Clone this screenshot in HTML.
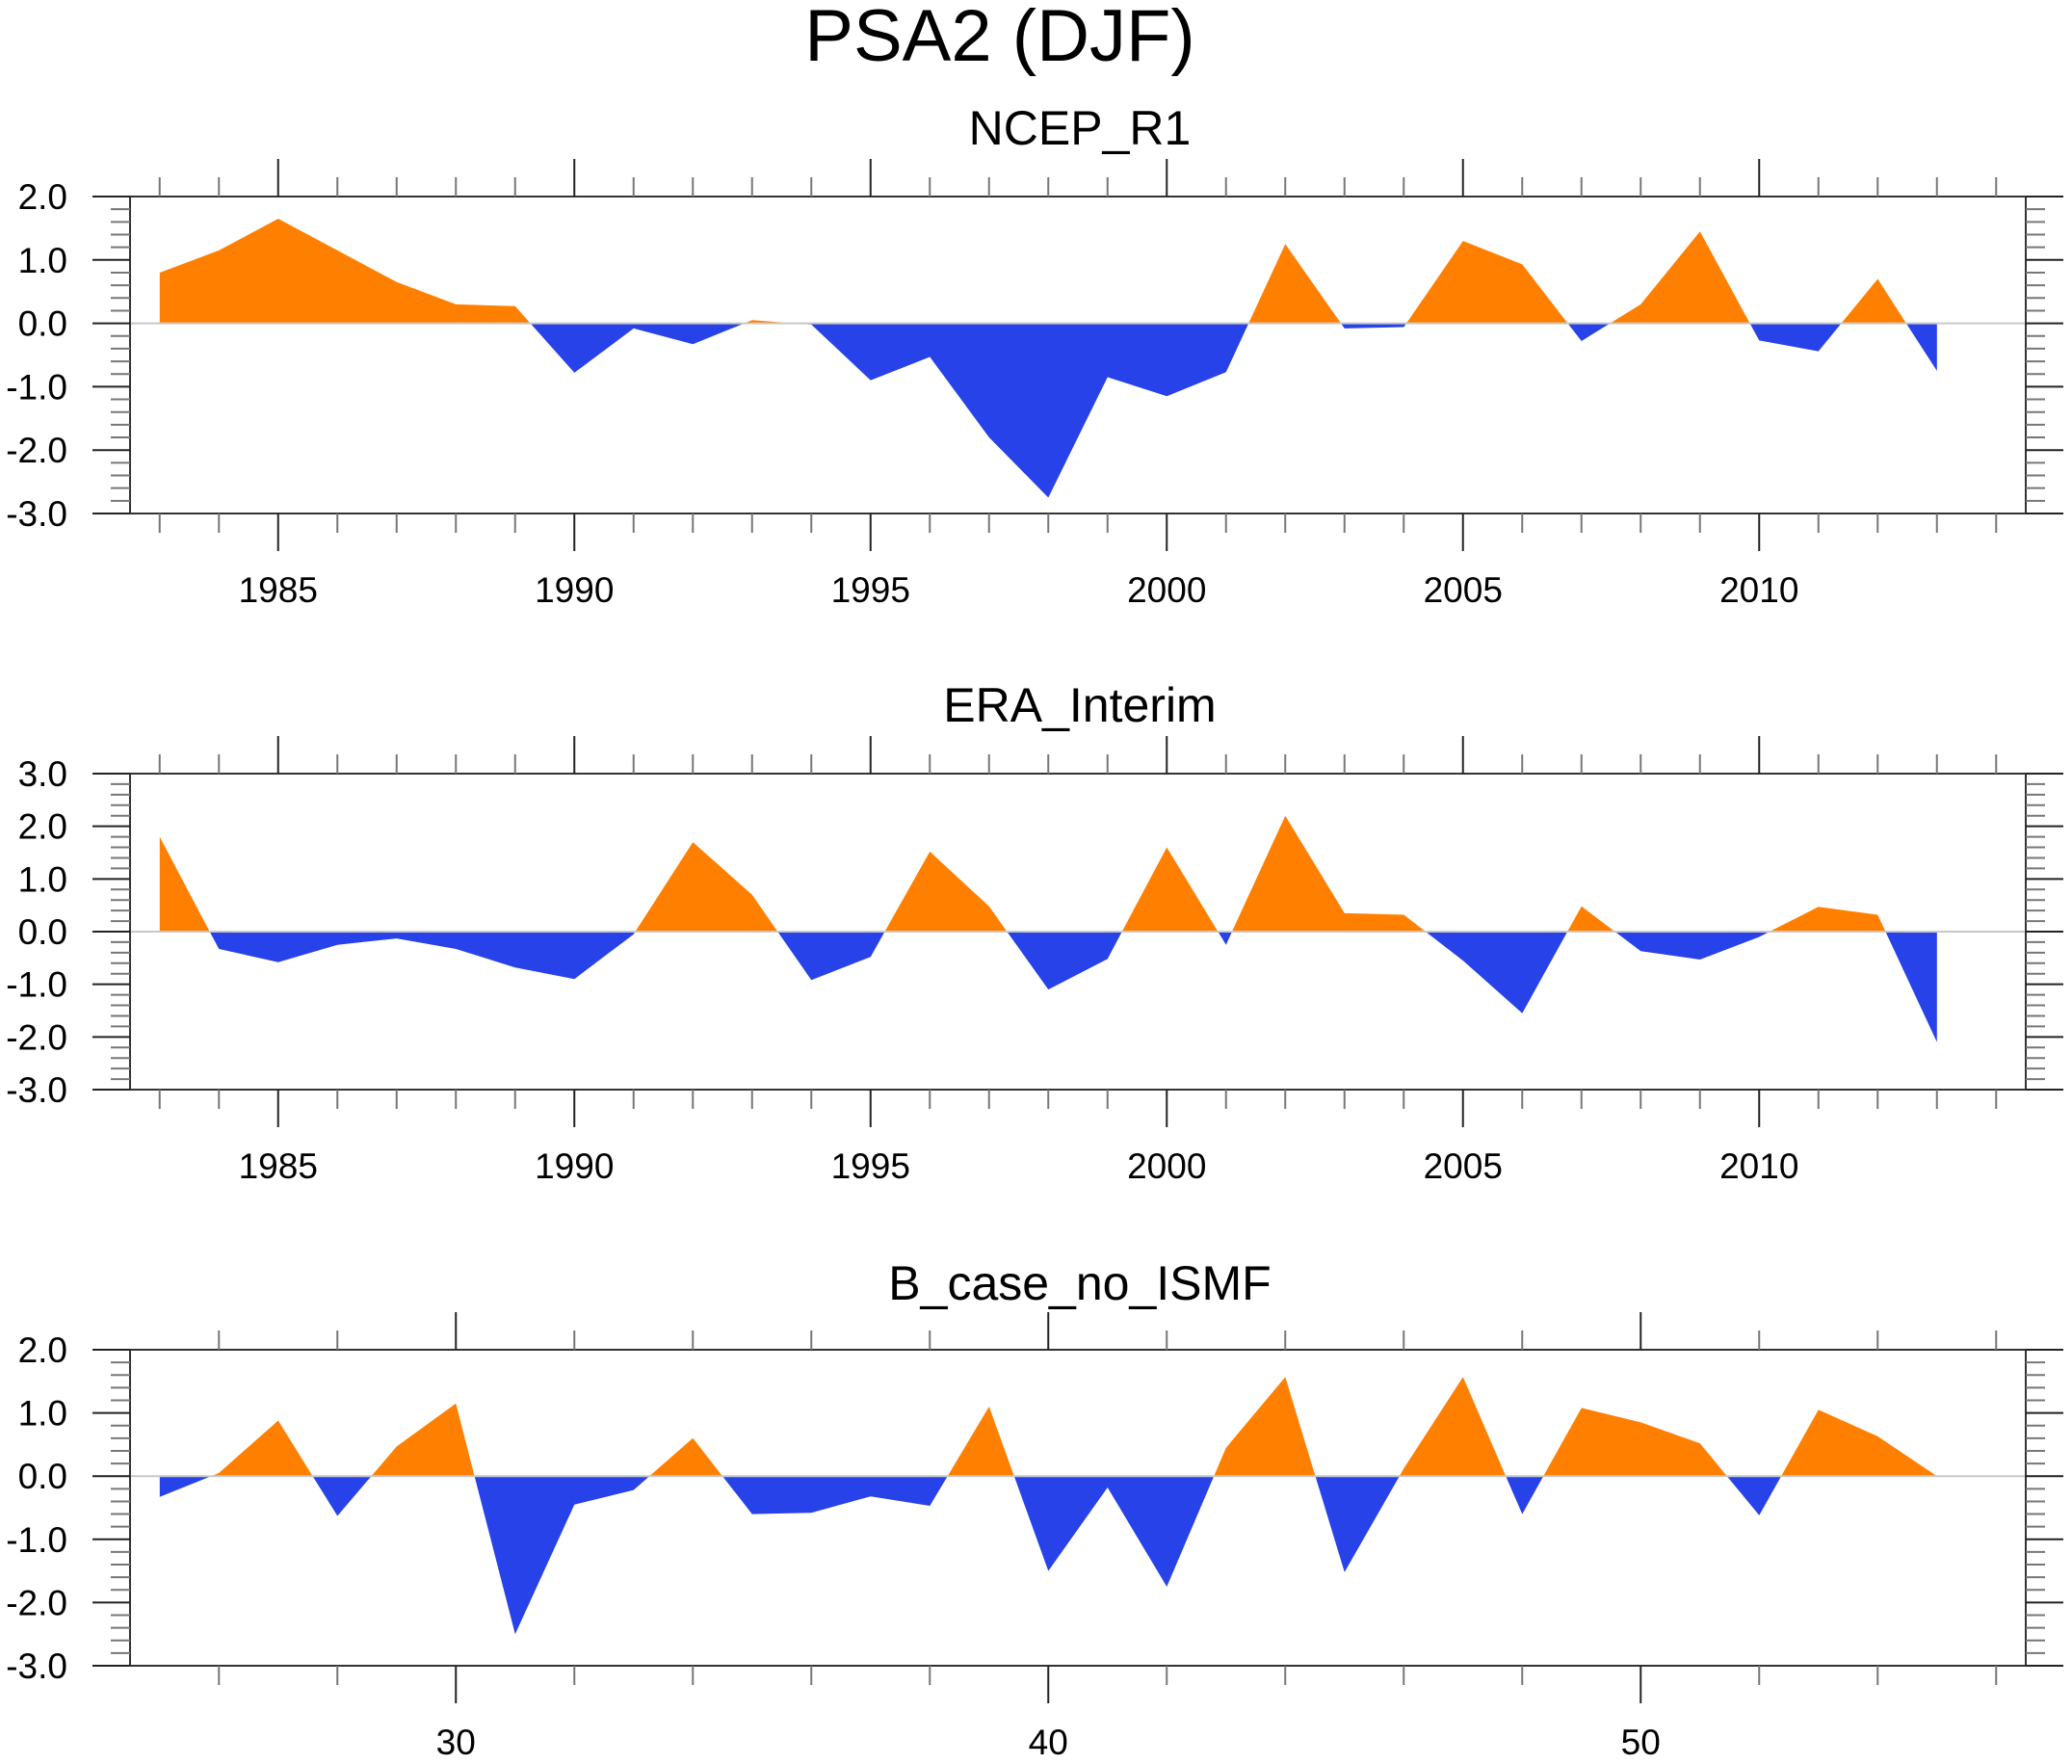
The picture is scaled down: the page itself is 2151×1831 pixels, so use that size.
<!DOCTYPE html>
<html><head><meta charset="utf-8"><style>
html,body{margin:0;padding:0;background:#fff}
svg{display:block}
text{font-family:"Liberation Sans",sans-serif;fill:#000}
</style></head><body>
<svg id="chart" width="2151" height="1831" viewBox="0 0 2151 1831">
<text x="1038" y="63" font-size="76" text-anchor="middle">PSA2 (DJF)</text>
</svg>
<script>
const years = [1983,1984,1985,1986,1987,1988,1989,1990,1991,1992,1993,1994,1995,1996,1997,1998,1999,2000,2001,2002,2003,2004,2005,2006,2007,2008,2009,2010,2011,2012,2013];
const ncepValues = [0.8,1.15,1.65,1.15,0.65,0.3,0.27,-0.78,-0.08,-0.33,0.05,-0.02,-0.9,-0.53,-1.8,-2.75,-0.85,-1.15,-0.77,1.25,-0.08,-0.06,1.3,0.93,-0.28,0.3,1.45,-0.27,-0.44,0.7,-0.75];
const eraValues = [1.8,-0.33,-0.58,-0.25,-0.13,-0.33,-0.68,-0.9,-0.05,1.7,0.7,-0.92,-0.48,1.52,0.48,-1.1,-0.52,1.6,-0.25,2.2,0.35,0.32,-0.55,-1.55,0.48,-0.37,-0.53,-0.1,0.47,0.32,-2.1];
const caseIndex = [25,26,27,28,29,30,31,32,33,34,35,36,37,38,39,40,41,42,43,44,45,46,47,48,49,50,51,52,53,54,55];
const caseValues = [-0.33,0.05,0.88,-0.63,0.47,1.15,-2.5,-0.45,-0.22,0.6,-0.6,-0.58,-0.32,-0.47,1.1,-1.5,-0.18,-1.75,0.45,1.57,-1.52,0.12,1.57,-0.6,1.08,0.85,0.52,-0.62,1.05,0.63,0.0];
const ncepYTicks = ["2.0","1.0","0.0","-1.0","-2.0","-3.0"];
const eraYTicks = ["3.0","2.0","1.0","0.0","-1.0","-2.0","-3.0"];
const yearLabels = ["1985","1990","1995","2000","2005","2010"];
const caseLabels = ["30","40","50"];

const svg = document.getElementById('chart');
const NS = 'http://www.w3.org/2000/svg';
function mk(tag, attrs){const e=document.createElementNS(NS,tag);for(const k in attrs)e.setAttribute(k,attrs[k]);return e;}

function panel(cfg){
  const g = mk('g',{});
  
  
  svg.appendChild(g);
  const L=135,R=2103,T=cfg.top,B=cfg.bottom;
  const xs = v => L + (v - cfg.xmin)/(cfg.xmax-cfg.xmin)*(R-L);
  const ys = v => T + (cfg.ymax - v)/(cfg.ymax-cfg.ymin)*(B-T);
  const t = mk('text',{x:1121,y:cfg.titleY,'font-size':50,'text-anchor':'middle'});
  t.textContent = cfg.title;
  
  
  g.appendChild(t);
  const xv = cfg.x, yv = cfg.y, y0 = ys(0);
  let segs = [];
  let cur = null;
  for (let i=0;i<xv.length;i++){
    const s = yv[i] >= 0 ? 1 : -1;
    if (!cur){cur={s:s,pts:[[xv[i],0],[xv[i],yv[i]]]};continue;}
    if (s!==cur.s){
      const xa=xv[i-1],ya=yv[i-1],xb=xv[i],yb=yv[i];
      const xc = xa + (0-ya)/(yb-ya)*(xb-xa);
      cur.pts.push([xc,0]); segs.push(cur);
      cur={s:s,pts:[[xc,0]]};
    }
    cur.pts.push([xv[i],yv[i]]);
  }
  cur.pts.push([xv[xv.length-1],0]); segs.push(cur);
  segs.forEach(sg=>{
    const p = mk('polygon',{points:sg.pts.map(q=>xs(q[0]).toFixed(1)+','+ys(q[1]).toFixed(1)).join(' '),fill:sg.s>0?'#ff8000':'#2842ea'});
    
    
    g.appendChild(p);
  });
  const zl = mk('line',{x1:L,x2:R,y1:y0,y2:y0,stroke:'#c8c8c8','stroke-width':2});
  
  
  g.appendChild(zl);
  const fr = mk('rect',{x:L,y:T,width:R-L,height:B-T,fill:'none',stroke:'#333','stroke-width':2});
  
  
  g.appendChild(fr);
  for (let v=cfg.ymin; v<=cfg.ymax+1e-6; v+=0.2){
    const vv=Math.round(v*10)/10, y=ys(vv);
    const major = Math.abs(vv-Math.round(vv))<1e-6;
    const len = major?39:20;
    g.appendChild(mk('line',{x1:L-len,x2:L,y1:y,y2:y,stroke:major?'#222':'#777','stroke-width':2}));
    g.appendChild(mk('line',{x1:R,x2:R+len,y1:y,y2:y,stroke:major?'#222':'#777','stroke-width':2}));
  }
  cfg.yLabels.forEach((lab,i)=>{
    const v = cfg.ymax - i;
    const tx = mk('text',{x:70,y:ys(v)+13,'font-size':37,'text-anchor':'end'});
    tx.textContent = lab;
    
    
    g.appendChild(tx);
  });
  let start = Math.ceil(cfg.xmin);
  while (start % cfg.minorStep !== 0) start++;
  for (let v=start; v<=cfg.xmax; v+=cfg.minorStep){
    const x=xs(v), major = v % cfg.majorStep === 0;
    const len = major?39:20;
    const col = major?'#222':'#777';
    g.appendChild(mk('line',{x1:x,x2:x,y1:T-len,y2:T,stroke:col,'stroke-width':2}));
    g.appendChild(mk('line',{x1:x,x2:x,y1:B,y2:B+len,stroke:col,'stroke-width':2}));
  }
  cfg.xLabels.forEach(lab=>{
    const tx = mk('text',{x:xs(+lab),y:B+92,'font-size':37,'text-anchor':'middle'});
    tx.textContent = lab;
    
    
    g.appendChild(tx);
  });
}
panel({name:'ncep-r1-panel',title:'NCEP_R1',titleY:150,top:204,bottom:533,ymin:-3,ymax:2,xmin:1982.5,xmax:2014.5,x:years,y:ncepValues,yLabels:ncepYTicks,xLabels:yearLabels,minorStep:1,majorStep:5});
panel({name:'era-interim-panel',title:'ERA_Interim',titleY:749,top:803,bottom:1131,ymin:-3,ymax:3,xmin:1982.5,xmax:2014.5,x:years,y:eraValues,yLabels:eraYTicks,xLabels:yearLabels,minorStep:1,majorStep:5});
panel({name:'b-case-panel',title:'B_case_no_ISMF',titleY:1349,top:1401,bottom:1729,ymin:-3,ymax:2,xmin:24.5,xmax:56.5,x:caseIndex,y:caseValues,yLabels:ncepYTicks,xLabels:caseLabels,minorStep:2,majorStep:10});
</script>
</body></html>
